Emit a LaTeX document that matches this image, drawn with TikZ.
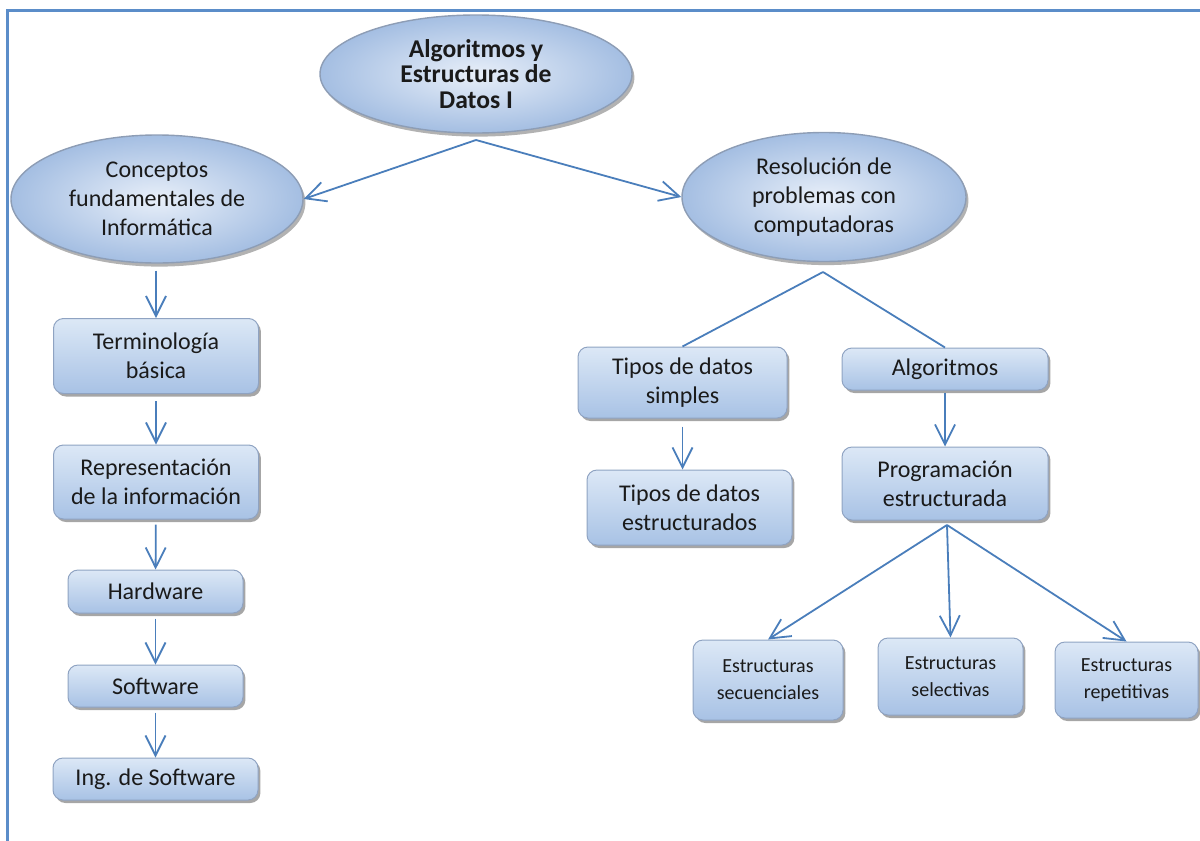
\documentclass[tikz,border=0pt]{standalone}
\usepackage{fontspec}
\setmainfont{Carlito}
\usetikzlibrary{arrows.meta,shapes.geometric,shadows}
\definecolor{boxtop}{HTML}{DCE8F6}
\definecolor{boxbot}{HTML}{A8C2E5}
\definecolor{boxedge}{HTML}{8FA3C2}
\definecolor{ellin}{HTML}{E8EFF9}
\definecolor{ellout}{HTML}{A4BEE2}
\definecolor{elledge}{HTML}{8D9DB5}
\definecolor{txt}{HTML}{1A1A1A}
\definecolor{linec}{HTML}{4A7EBB}
\definecolor{framec}{HTML}{5B8DC9}
\tikzset{
  boxn/.style={rectangle, rounded corners=5pt, draw=boxedge, line width=0.5pt,
    top color=boxtop, bottom color=boxbot,
    drop shadow={shadow xshift=1.2pt, shadow yshift=-1.5pt, opacity=0.35, fill=black},
    align=center, inner sep=0pt, text=txt, font=\fontsize{12}{14.5}\selectfont},
  smallbox/.style={boxn, font=\fontsize{10}{13.5}\selectfont},
  ell/.style={ellipse, draw=elledge, line width=0.7pt,
    inner color=ellin, outer color=ellout,
    drop shadow={shadow xshift=1.2pt, shadow yshift=-1.8pt, opacity=0.3, fill=black},
    align=center, inner sep=0pt, text=txt, font=\fontsize{12}{14.5}\selectfont},
  conn/.style={draw=linec, line width=0.9pt},
  arr/.style={conn, -{Straight Barb[length=10pt,width=10pt]}},
  framel/.style={draw=framec, line width=1.5pt},
}
\begin{document}
\begin{tikzpicture}[x=0.5pt,y=-0.5pt]
\useasboundingbox (0,0) rectangle (1200,841);
\draw[framel] (7.5,841) -- (7.5,10.5) -- (1200,10.5);

% ellipses
\node[ell, minimum width=156pt, minimum height=59pt, font=\fontsize{12.8}{12.8}\selectfont\bfseries] (top) at (476,74) {Algoritmos y\\Estructuras de\\Datos I};
\node[ell, minimum width=146pt, minimum height=64pt] (conc) at (157,199) {Conceptos\\fundamentales de\\Informática};
\node[ell, minimum width=142pt, minimum height=64.5pt] (res) at (824,197) {Resolución de\\problemas con\\computadoras};

% left column
\node[boxn, minimum width=102.5pt, minimum height=37.5pt] (term) at (156,356) {Terminología\\básica};
\node[boxn, minimum width=102.5pt, minimum height=37pt] (repr) at (156,482) {Representación\\de la información};
\node[boxn, minimum width=87.5pt, minimum height=21.5pt] (hw) at (155.5,591.5) {Hardware};
\node[boxn, minimum width=87.5pt, minimum height=21pt] (sw) at (155.5,686) {Software};
\node[boxn, minimum width=102.5pt, minimum height=21pt] (ing) at (155.5,779) {Ing. de Software};

% right side
\node[boxn, minimum width=104.5pt, minimum height=35.5pt] (tds) at (682.5,382.5) {Tipos de datos\\simples};
\node[boxn, minimum width=102.5pt, minimum height=37.5pt] (tde) at (689.5,507.5) {Tipos de datos\\estructurados};
\node[boxn, minimum width=103pt, minimum height=21pt] (alg) at (945,369) {Algoritmos};
\node[boxn, minimum width=103pt, minimum height=36.5pt] (prog) at (945,483.5) {Programación\\estructurada};
\node[smallbox, minimum width=75pt, minimum height=40pt] (sec) at (768,680) {Estructuras\\secuenciales};
\node[smallbox, minimum width=72.5pt, minimum height=38.5pt] (sel) at (950.5,676.5) {Estructuras\\selectivas};
\node[smallbox, minimum width=71.5pt, minimum height=38pt] (rep) at (1126.5,680) {Estructuras\\repetitivas};

% junction points
\coordinate (tapex) at (476,140);
\coordinate (rapex) at (823,272);
\coordinate (papex) at (947,525);

% connectors
\draw[arr] (tapex) -- (conc.east);
\draw[arr] (tapex) -- (res.west);

\draw[arr, shorten <=3.5pt] (conc.south -| term.north) -- (term.north);
\draw[arr, shorten <=3.5pt] (term) -- (repr);
\draw[arr, shorten <=2.5pt] (repr) -- (hw);
\draw[arr, shorten <=2.5pt] (hw) -- (sw);
\draw[arr, shorten <=2.5pt] (sw) -- (ing);

\draw[conn] (rapex) -- (tds.north);
\draw[conn] (rapex) -- (alg.north);
\draw[arr, shorten <=4pt] (tds.south) -- (tds.south |- tde.north);
\draw[arr, shorten <=1pt] (alg) -- (prog);

\draw[arr] (papex) -- (sec.north);
\draw[arr] (papex) -- (sel.north);
\draw[arr] (papex) -- (rep.north);
\end{tikzpicture}
\end{document}
